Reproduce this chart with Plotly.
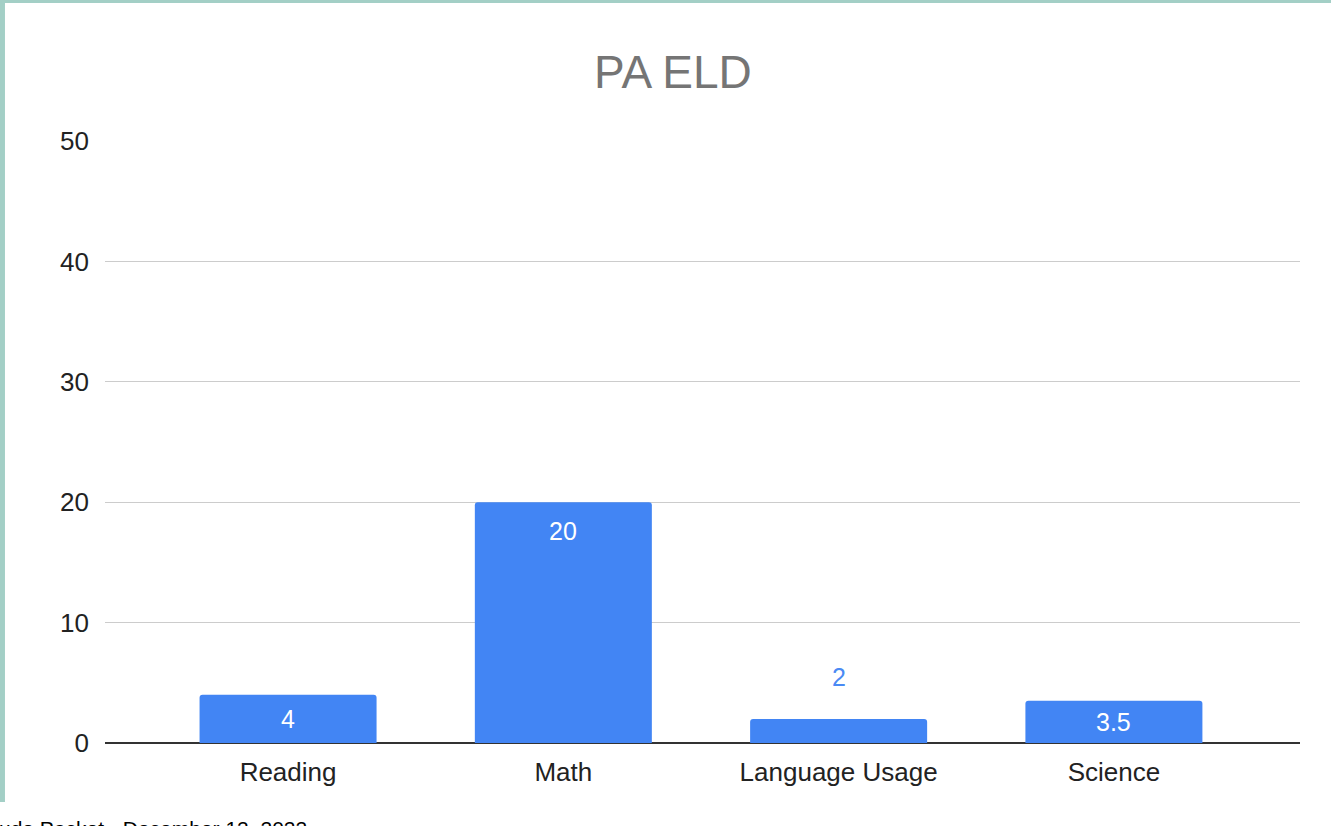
"""
PA ELD bar chart (Google Sheets style).
"""
import plotly.graph_objects as go

categories = ["Reading", "Math", "Language Usage", "Science"]
values = [4, 20, 2, 3.5]
y_ticks = [0, 10, 20, 30, 40, 50]
footer_text = "ude Packet - December 12, 2022"

BLUE = "#4285f4"
TEAL = "#a3cfc6"
FONT = "Liberation Sans, Arial, sans-serif"

fig = go.Figure()

fig.add_trace(go.Bar(
    x=categories,
    y=values,
    marker={"color": BLUE, "line": {"width": 0}, "cornerradius": 3},
    hoverinfo="x+y",
    showlegend=False,
))

# data labels: inside-top for tall bars, centred for short, above for tiny ones
for cat, v in zip(categories, values):
    label = f"{v:g}"
    if v < 3:
        fig.add_annotation(x=cat, y=v, text=label, showarrow=False, yanchor="middle",
                           yshift=42, font={"color": "#4a8af4", "size": 25, "family": FONT})
    elif v < 10:
        fig.add_annotation(x=cat, y=v / 2, text=label, showarrow=False, yanchor="middle",
                           font={"color": "#ffffff", "size": 25, "family": FONT})
    else:
        fig.add_annotation(x=cat, y=v, text=label, showarrow=False, yanchor="middle",
                           yshift=-29, font={"color": "#ffffff", "size": 25, "family": FONT})

# footer from the slide, cut off by the page edge
fig.add_annotation(
    text=footer_text, xref="paper", yref="paper", x=-0.0904, y=-0.1196,
    xanchor="left", yanchor="top", showarrow=False,
    font={"color": "#000000", "size": 21, "family": FONT},
)

# teal frame (top and left edges)
fig.add_shape(type="rect", xref="paper", yref="paper", x0=-0.0879, x1=-0.0837,
              y0=-0.098, y1=1.2342, fillcolor=TEAL, line={"width": 0}, layer="above")
fig.add_shape(type="rect", xref="paper", yref="paper", x0=-0.0879, x1=1.026,
              y0=1.2292, y1=1.2342, fillcolor=TEAL, line={"width": 0}, layer="above")

fig.update_layout(
    width=1331,
    height=826,
    paper_bgcolor="#ffffff",
    plot_bgcolor="#ffffff",
    font={"family": FONT, "color": "#222222", "size": 26},
    title={
        "text": "PA ELD",
        "x": 0.5056, "xref": "container", "xanchor": "center",
        "y": 0.9128, "yref": "container", "yanchor": "middle",
        "font": {"size": 46, "color": "#757575", "family": FONT},
    },
    margin={"l": 105, "r": 31, "t": 141, "b": 83},
    bargap=0.357,
)
fig.update_xaxes(
    range=[-0.665, 3.676],
    showgrid=False,
    showline=False,
    zeroline=False,
    ticks="",
    ticklabelstandoff=11,
    tickfont={"size": 26, "color": "#222222"},
)
fig.update_yaxes(
    range=[0, 50],
    tickvals=y_ticks,
    showgrid=True,
    gridcolor="#cccccc",
    gridwidth=1,
    zeroline=True,
    zerolinecolor="#333333",
    zerolinewidth=2,
    ticks="",
    ticklabelstandoff=15,
    tickfont={"size": 26, "color": "#222222"},
)

fig.write_html(
    "out.html",
    config={"displayModeBar": False},
    post_script="document.body.style.margin='0';",
)
